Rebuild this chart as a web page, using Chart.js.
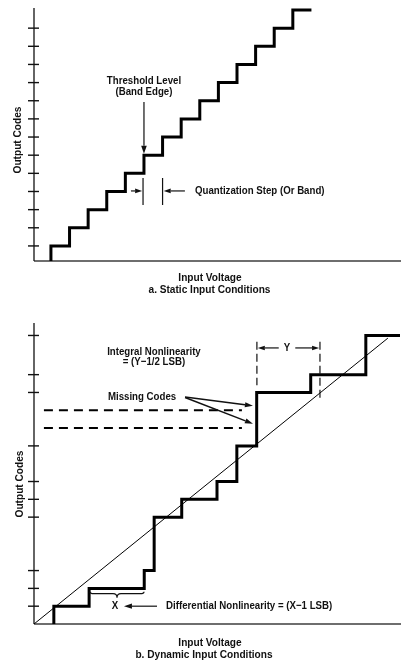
<!DOCTYPE html>
<html><head><meta charset="utf-8">
<script src="https://cdn.jsdelivr.net/npm/chart.js@4.4.1/dist/chart.umd.min.js"></script>
<style>
html,body{margin:0;padding:0;background:#fff;}
#wrap{position:relative;width:401px;height:666px;overflow:hidden;background:#fff;}
#c1{position:absolute;left:0;top:0;}
#c2{position:absolute;left:0;top:300px;}
</style></head><body>
<div id="wrap"><canvas id="c1" width="401" height="300"></canvas><canvas id="c2" width="401" height="366"></canvas></div>
<script>
// ---------- a. Static Input Conditions ----------
const staticThresholds = [1, 2, 3, 4, 5, 6, 7, 8, 9, 10, 11, 12, 13, 14]; // input (LSB) where each code starts
const staticCodes      = [1, 2, 3, 4, 5, 6, 7, 8, 9, 10, 11, 12, 13, 14];
const staticEndInput   = 15;
const staticTickCodes  = [1, 2, 3, 4, 5, 6, 7, 8, 9, 10, 11, 12, 13];

// ---------- b. Dynamic Input Conditions ----------
const dynThresholds = [0.9, 2.5, 5.0, 5.45, 6.7, 8.3, 9.2, 10.1, 12.55, 15.05];
const dynCodes      = [1, 2, 3, 6, 7, 8, 10, 13, 14, 16.2];
const dynEndInput   = 16.6;
const dynTickCodes  = [1, 2, 3, 6, 7, 8, 10, 13, 14, 16.2];
const idealInput    = [0, 16.05];
const idealCode     = [0, 16.05];
const missingCodes  = [11, 12];
const missingInputRange = [0.45, 9.43];

const FONT = "bold 11px 'Liberation Sans', Arial, sans-serif";
const TITLE_FONT = "bold 11.5px 'Liberation Sans', Arial, sans-serif";
const CONDENSE = 0.88;

function stairPoints(th, codes, endX) {
  const pts = [{x: th[0], y: 0}];
  th.forEach((t, i) => pts.push({x: t, y: codes[i]}));
  pts.push({x: endX, y: codes[codes.length - 1]});
  return pts;
}

function arrow(ctx, x1, y1, x2, y2, len = 7, w = 2.6) {
  const a = Math.atan2(y2 - y1, x2 - x1);
  const bx = x2 - len * Math.cos(a), by = y2 - len * Math.sin(a);
  ctx.beginPath(); ctx.moveTo(x1, y1); ctx.lineTo(bx, by); ctx.stroke();
  ctx.beginPath();
  ctx.moveTo(x2, y2);
  ctx.lineTo(bx + w * Math.sin(a), by - w * Math.cos(a));
  ctx.lineTo(bx - w * Math.sin(a), by + w * Math.cos(a));
  ctx.closePath(); ctx.fill();
}

function txt(ctx, s, x, y, align = 'center', font = FONT) {
  ctx.save();
  ctx.translate(x, y); ctx.scale(CONDENSE, 1);
  ctx.font = font; ctx.textAlign = align; ctx.textBaseline = 'middle';
  ctx.fillText(s, 0, 0);
  ctx.restore();
}

function axesPlugin(cfg) {
  return {
    id: 'axesDraw',
    beforeDatasetsDraw(chart) {
      const {ctx, chartArea: a, scales: {y}} = chart;
      ctx.save();
      ctx.strokeStyle = '#6e6e6e'; ctx.lineWidth = 2;
      ctx.beginPath(); ctx.moveTo(a.left, a.bottom); ctx.lineTo(a.right + 1, a.bottom); ctx.stroke();
      ctx.strokeStyle = '#111'; ctx.lineWidth = 1.3;
      ctx.beginPath(); ctx.moveTo(a.left, a.top); ctx.lineTo(a.left, a.bottom); ctx.stroke();
      ctx.lineWidth = 1.4;
      cfg.ticks.forEach(v => {
        const py = y.getPixelForValue(v);
        ctx.beginPath(); ctx.moveTo(a.left - 6, py); ctx.lineTo(a.left + 5, py); ctx.stroke();
      });
      ctx.fillStyle = '#111';
      ctx.save();
      ctx.translate(cfg.yTitle[0], cfg.yTitle[1]); ctx.rotate(-Math.PI / 2);
      txt(ctx, 'Output Codes', 0, 0, 'center', TITLE_FONT);
      ctx.restore();
      txt(ctx, 'Input Voltage', cfg.xTitle[0], cfg.xTitle[1], 'center', TITLE_FONT);
      txt(ctx, cfg.caption, cfg.caption2[0], cfg.caption2[1], 'center', TITLE_FONT);
      ctx.restore();
    },
    afterDatasetsDraw(chart) {
      const {ctx, scales: {x, y}} = chart;
      ctx.save();
      ctx.fillStyle = '#111'; ctx.strokeStyle = '#111';
      cfg.annot(ctx, v => x.getPixelForValue(v), v => y.getPixelForValue(v));
      ctx.restore();
    }
  };
}

const lineDefaults = {
  borderColor: '#000', pointRadius: 0, fill: false, tension: 0,
  borderJoinStyle: 'miter', borderCapStyle: 'butt', clip: 0
};

// ---------- chart a ----------
new Chart(document.getElementById('c1'), {
  type: 'line',
  data: {
    datasets: [{
      ...lineDefaults, label: 'Transfer', data: stairPoints(staticThresholds, staticCodes, staticEndInput),
      borderWidth: 3, stepped: 'before'
    }]
  },
  options: {
    responsive: false, animation: false, devicePixelRatio: 1,
    layout: {padding: {left: 34, top: 8, right: 1, bottom: 39}},
    plugins: {legend: {display: false}, tooltip: {enabled: false}},
    scales: {
      x: {type: 'linear', display: false, min: 0.09, max: 19.76},
      y: {type: 'linear', display: false, min: 0.17, max: 14.11}
    }
  },
  plugins: [axesPlugin({
    ticks: staticTickCodes,
    yTitle: [18, 140], xTitle: [210, 278], caption: 'a. Static Input Conditions', caption2: [209.5, 289.5],
    annot(ctx, X, Y) {
      txt(ctx, 'Threshold Level', X(6), Y(10.1));
      txt(ctx, '(Band Edge)', X(6), Y(9.5));
      ctx.lineWidth = 1.2;
      arrow(ctx, X(6), Y(8.93), X(6), Y(6.08), 8, 2.8);
      ctx.beginPath();
      ctx.moveTo(X(5.95), Y(4.74)); ctx.lineTo(X(5.95), Y(3.25));
      ctx.moveTo(X(7.0), Y(4.74)); ctx.lineTo(X(7.0), Y(3.25));
      ctx.stroke();
      arrow(ctx, X(5.3), Y(4.03), X(5.9), Y(4.03), 7, 2.4);
      arrow(ctx, X(8.2), Y(4.03), X(7.06), Y(4.03), 7, 2.4);
      txt(ctx, 'Quantization Step (Or Band)', X(8.74), Y(4.03), 'left');
    }
  })]
});

// ---------- chart b ----------
const dashed = missingCodes.map(c => ({
  ...lineDefaults, label: 'Missing code ' + c,
  data: [{x: missingInputRange[0], y: c}, {x: missingInputRange[1], y: c}],
  borderWidth: 2, borderDash: [9, 6]
}));

new Chart(document.getElementById('c2'), {
  type: 'line',
  data: {
    datasets: [
      {...lineDefaults, label: 'Ideal', data: idealInput.map((v, i) => ({x: v, y: idealCode[i]})), borderWidth: 1},
      ...dashed,
      {...lineDefaults, label: 'Transfer', data: stairPoints(dynThresholds, dynCodes, dynEndInput), borderWidth: 3, stepped: 'before'}
    ]
  },
  options: {
    responsive: false, animation: false, devicePixelRatio: 1,
    layout: {padding: {left: 34, top: 23, right: 1, bottom: 42}},
    plugins: {legend: {display: false}, tooltip: {enabled: false}},
    scales: {
      x: {type: 'linear', display: false, min: 0, max: 16.6},
      y: {type: 'linear', display: false, min: 0, max: 16.9}
    }
  },
  plugins: [axesPlugin({
    ticks: dynTickCodes,
    yTitle: [20, 184], xTitle: [210, 343], caption: 'b. Dynamic Input Conditions', caption2: [204, 354.5],
    annot(ctx, X, Y) {
      txt(ctx, 'Integral Nonlinearity', X(5.44), Y(15.28));
      txt(ctx, '= (Y\u22121/2 LSB)', X(5.44), Y(14.72));
      txt(ctx, 'Missing Codes', X(4.9), Y(12.75));
      ctx.lineWidth = 1.5;
      arrow(ctx, X(6.85), Y(12.75), X(9.93), Y(12.25), 8, 2.6);
      arrow(ctx, X(6.85), Y(12.72), X(9.93), Y(11.24), 8, 2.6);
      ctx.lineWidth = 1.2;
      ctx.setLineDash([8, 4]);
      ctx.beginPath();
      ctx.moveTo(X(10.11), Y(15.85)); ctx.lineTo(X(10.11), Y(13.4));
      ctx.moveTo(X(12.97), Y(15.85)); ctx.lineTo(X(12.97), Y(12.58));
      ctx.stroke();
      ctx.setLineDash([]);
      arrow(ctx, X(11.1), Y(15.5), X(10.15), Y(15.5), 7, 2.2);
      arrow(ctx, X(11.85), Y(15.5), X(12.93), Y(15.5), 7, 2.2);
      txt(ctx, 'Y', X(11.47), Y(15.5));
      const x1 = X(2.54), x2 = X(4.99), xm = (x1 + x2) / 2, yb = Y(1.7), h = 4;
      ctx.beginPath();
      ctx.moveTo(x1, yb - h / 2);
      ctx.quadraticCurveTo(x1, yb, x1 + 4, yb);
      ctx.lineTo(xm - 4, yb);
      ctx.quadraticCurveTo(xm, yb, xm, yb + h);
      ctx.quadraticCurveTo(xm, yb, xm + 4, yb);
      ctx.lineTo(x2 - 4, yb);
      ctx.quadraticCurveTo(x2, yb, x2, yb - h / 2);
      ctx.stroke();
      txt(ctx, 'X', X(3.67), Y(1.0));
      arrow(ctx, X(5.58), Y(1.0), X(4.08), Y(1.0), 8, 2.6);
      txt(ctx, 'Differential Nonlinearity = (X\u22121 LSB)', X(5.99), Y(1.0), 'left');
    }
  })]
});
</script>
</body></html>
